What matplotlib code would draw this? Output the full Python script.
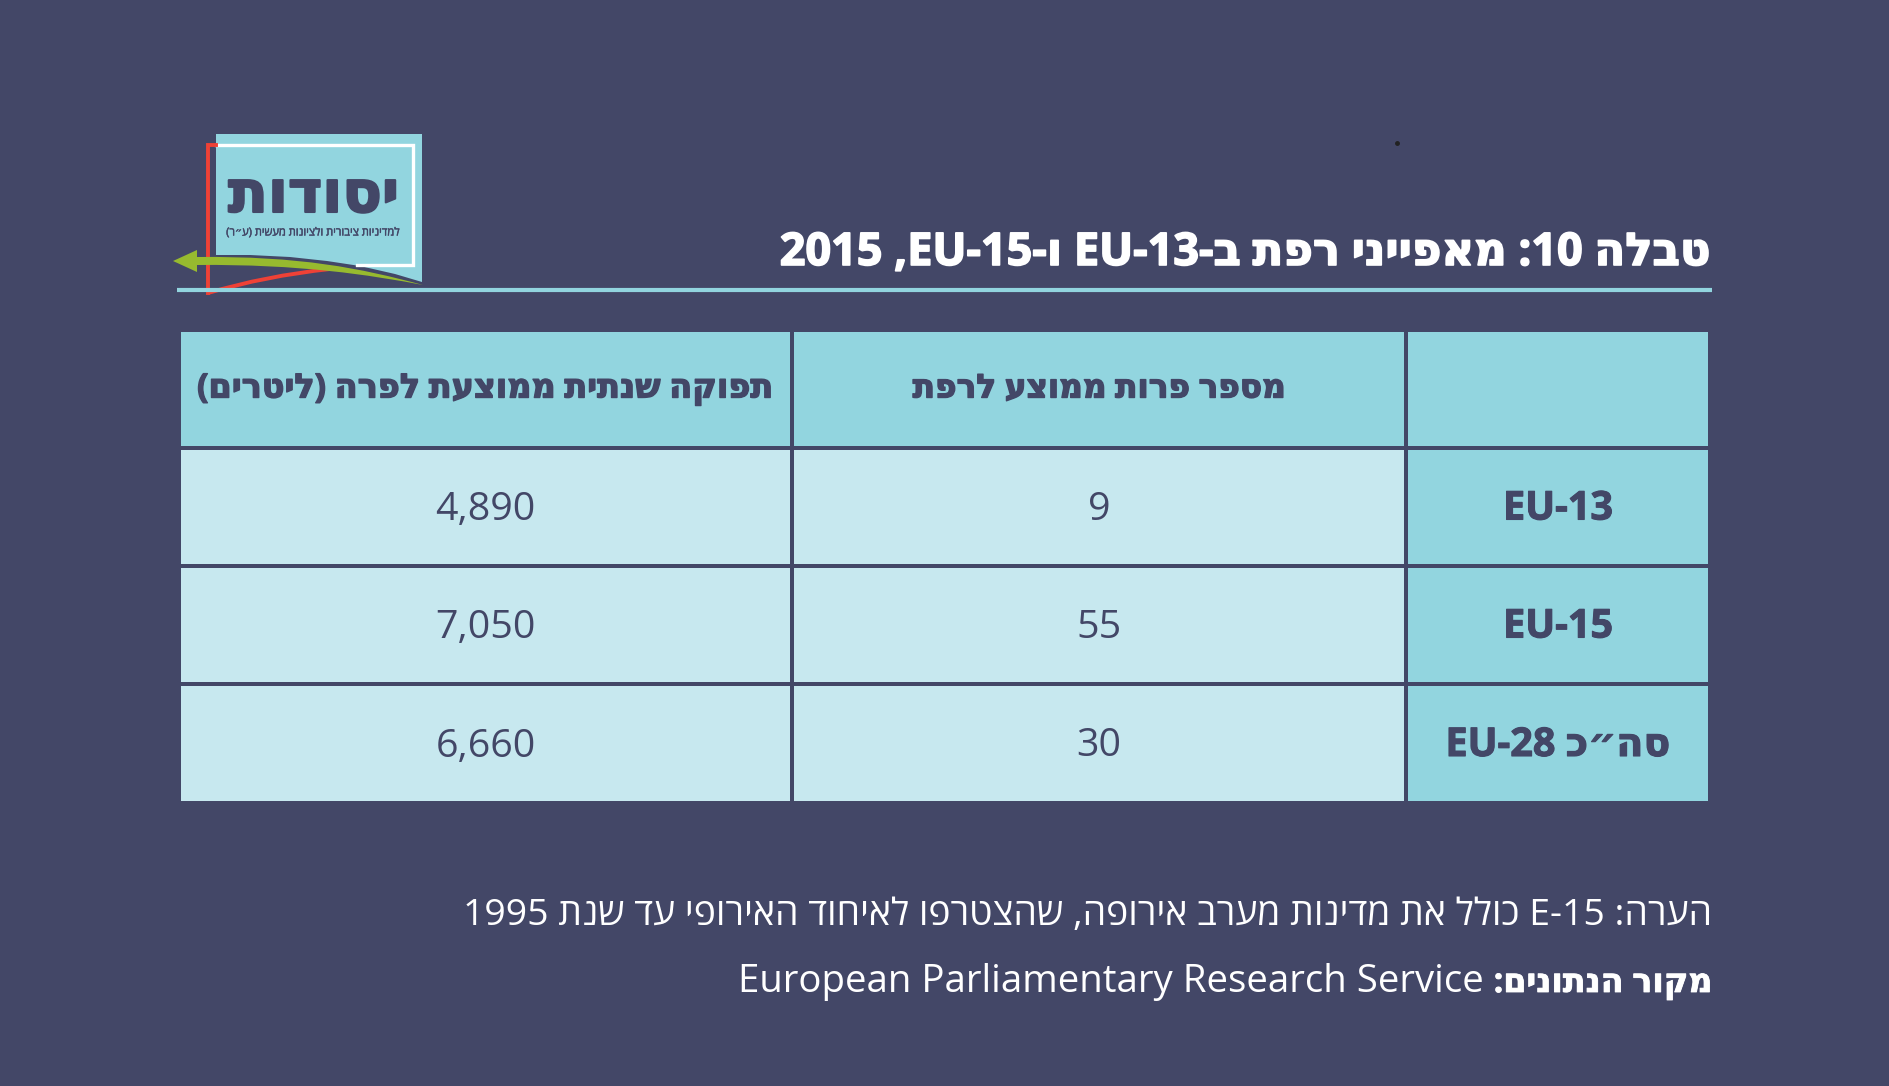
import re
import matplotlib
matplotlib.use('Agg')
import matplotlib.pyplot as plt
import matplotlib.patheffects as pe
from matplotlib.patches import Rectangle, Polygon, PathPatch
from matplotlib.path import Path

plt.rcParams['font.family'] = ['Open Sans', 'DejaVu Sans']

# data
title = 'טבלה 10: מאפייני רפת ב-EU-13 ו-EU-15, 2015'
col_headers = ['', 'מספר פרות ממוצע לרפת', 'תפוקה שנתית ממוצעת לפרה (ליטרים)']
row_labels = ['EU-13', 'EU-15', 'סה״כ EU-28']
farm_size = ['9', '55', '30']
milk_yield = ['4,890', '7,050', '6,660']
note = 'הערה: E-15 כולל את מדינות מערב אירופה, שהצטרפו לאיחוד האירופי עד שנת 1995'
source_label = 'מקור הנתונים:'
source = 'European Parliamentary Research Service'
logo_name = 'יסודות'
logo_sub = 'למדיניות ציבורית ולציונות מעשית (ע״ר)'

# colours
BG = '#434767'
TEAL = '#92D5DF'
LIGHT = '#C7E8EF'
RED = '#EF4136'
GREEN = '#97BA2F'


def rtl(s):
    # matplotlib has no bidi, so put the string in visual order by hand
    parts = re.findall(r'[A-Za-z0-9](?:[A-Za-z0-9\-]|,(?=\d))*|.', s)
    swap = {'(': ')', ')': '('}
    return ''.join(swap.get(p, p) for p in reversed(parts))


def heavy(width, color):
    return [pe.withStroke(linewidth=width, foreground=color)]


fig = plt.figure(figsize=(18.9, 10.86), dpi=100, facecolor=BG)
ax = fig.add_axes([0, 0, 1, 1])
ax.set_xlim(0, 1890)
ax.set_ylim(1086, 0)
ax.axis('off')

# logo
ax.add_patch(Polygon([(216, 134), (422, 134), (422, 282), (395, 274), (360, 266), (327, 261), (290, 257),
                      (250, 255), (216, 255)], closed=True, fc=TEAL, ec='none', zorder=1))
ax.plot([216, 413, 413, 357], [145, 145, 265, 265], color='white', lw=2.4, zorder=2, solid_joinstyle='miter')
ax.plot([216, 208, 208], [145, 145, 293], color=RED, lw=2.8, zorder=2, solid_joinstyle='miter')
ax.add_patch(PathPatch(Path([(208, 293), (265, 276), (330, 269)], [Path.MOVETO, Path.CURVE3, Path.CURVE3]),
                       fc='none', ec=RED, lw=2.8, zorder=2))
ax.add_patch(PathPatch(Path([(197, 257), (300, 256), (360, 268), (423, 285), (370, 275), (300, 264), (197, 265),
                             (197, 257)],
                            [Path.MOVETO, Path.CURVE4, Path.CURVE4, Path.CURVE4, Path.CURVE4, Path.CURVE4,
                             Path.CURVE4, Path.CLOSEPOLY]),
                       fc=GREEN, ec='none', zorder=3))
ax.add_patch(Polygon([(173, 261), (197, 250), (197, 272)], closed=True, fc=GREEN, ec='none', zorder=3))
ax.text(313.5, 197, rtl(logo_name), fontsize=42, fontweight='bold', color=BG, ha='center', va='center', zorder=3,
        path_effects=heavy(1.5, BG))
ax.text(313, 233, rtl(logo_sub), fontsize=8, color=BG, ha='center', va='center', zorder=3,
        path_effects=heavy(0.3, BG))

# stray dot in the artwork
ax.plot([1397], [143], marker='o', ms=2.5, color='#222222')

# title and rule
ax.text(1712, 265, rtl(title), fontsize=32.4, fontweight='bold', color='white', ha='right', va='baseline',
        path_effects=heavy(1.2, 'white'))
ax.plot([177, 1712], [290, 290], color=TEAL, lw=3, solid_capstyle='butt', zorder=2)

# table
col_edges = [(1408, 1708), (794, 1404), (181, 790)]
row_edges = [(332, 446), (450, 564), (568, 682), (686, 801)]
columns = [[col_headers[0]] + row_labels, [col_headers[1]] + farm_size, [col_headers[2]] + milk_yield]
header_sizes = [23.6, 23.6, 24.1]

for c, (x0, x1) in enumerate(col_edges):
    for r, (y0, y1) in enumerate(row_edges):
        is_head = r == 0 or c == 0
        ax.add_patch(Rectangle((x0, y0), x1 - x0, y1 - y0, fc=TEAL if is_head else LIGHT, ec='none'))
        ymid = (y0 + y1) / 2
        if r == 0:
            ax.text((x0 + x1) / 2, ymid, rtl(columns[c][r]), fontsize=header_sizes[c], fontweight='bold',
                    color=BG, ha='center', va='center', path_effects=heavy(1, BG))
        elif c == 0:
            ax.text((x0 + x1) / 2, ymid + 2, rtl(columns[c][r]), fontsize=28.5, fontweight='bold',
                    color=BG, ha='center', va='center', path_effects=heavy(0.8, BG))
        else:
            ax.text((x0 + x1) / 2, ymid + 3, rtl(columns[c][r]), fontsize=28.4,
                    color=BG, ha='center', va='center')

# footer
ax.text(1712, 925, rtl(note), fontsize=26.9, color='white', ha='right', va='baseline')
lab = ax.text(1712, 992, rtl(source_label), fontsize=24, fontweight='bold', color='white', ha='right', va='baseline',
              path_effects=heavy(0.6, 'white'))
box = lab.get_window_extent(fig.canvas.get_renderer())
ax.text(box.x0 - 10, 992, source, fontsize=27.6, color='white', ha='right', va='baseline')

fig.savefig('out.png', dpi=100, facecolor=BG)
